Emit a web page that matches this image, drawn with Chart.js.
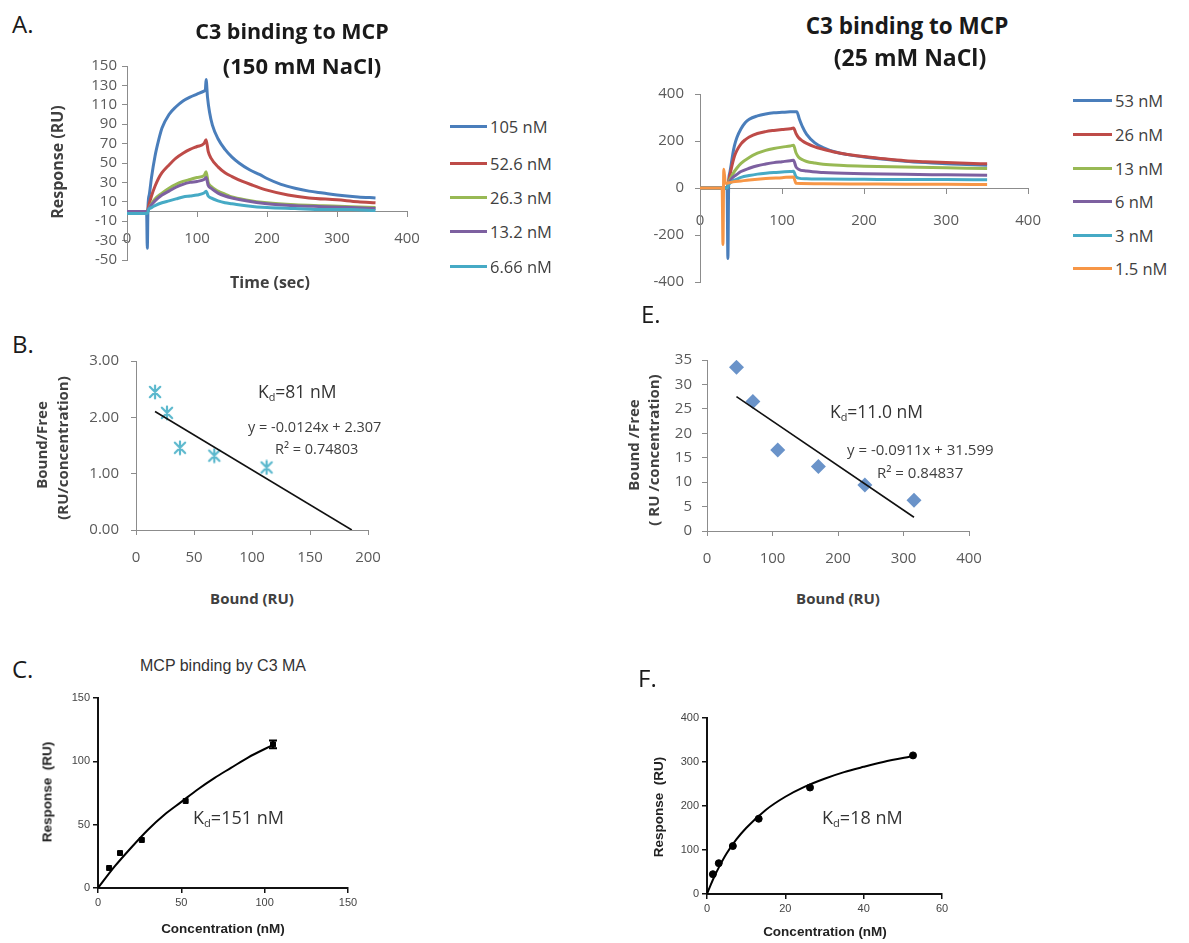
<!DOCTYPE html>
<html>
<head>
<meta charset="utf-8">
<title>C3 binding to MCP</title>
<script src="https://cdn.jsdelivr.net/npm/chart.js@4.4.1/dist/chart.umd.min.js"></script>
<style>
  html, body { margin: 0; padding: 0; background: #fff; }
  #fig { position: relative; width: 1189px; height: 943px; overflow: hidden; background: #fff; }
  #fig canvas { position: absolute; z-index: 1; }
  .t { position: absolute; white-space: nowrap; line-height: 1; z-index: 2; }
  .t sub { font-size: 0.62em; vertical-align: -0.25em; line-height: 0; }
  .leg { position: absolute; height: 3px; z-index: 2; }
</style>
</head>
<body>
<div id="fig"></div>
<script>
// ---------------- data ----------------
// Sensorgrams, 150 mM NaCl: time (s) and response (RU) per C3 concentration
const physLabels = ['105 nM', '52.6 nM', '26.3 nM', '13.2 nM', '6.66 nM'];
const physColors = ['#4A7EBB', '#BE4B48', '#98B954', '#7D60A0', '#46AAC5'];
const tPhys105 = [0, 28, 29, 30, 32, 35, 40, 45, 50, 60, 70, 80, 90, 100, 110, 112, 113, 115, 118, 122, 130, 140, 150, 160, 175, 190, 200, 220, 240, 260, 280, 300, 330, 355];
const rPhys105 = [0, 0, -38, 5, 18, 35, 57, 73, 86, 100, 108, 114, 118, 121, 124, 126, 136, 118, 102, 89, 75, 64, 56, 50, 43, 38, 34, 28, 24, 21, 19, 17, 15, 14];
const tPhys52 = [0, 29, 31, 35, 40, 45, 50, 60, 70, 80, 90, 100, 110, 113, 116, 120, 130, 140, 150, 165, 180, 200, 230, 260, 300, 330, 355];
const rPhys52 = [0, 0, 6, 16, 26, 34, 40, 48, 55, 60, 64, 67, 70, 74, 62, 55, 46, 40, 36, 31, 27, 22, 17, 14, 12, 10, 9];
const tPhysLow = [0, 29, 31, 35, 40, 50, 60, 70, 80, 90, 100, 110, 113, 116, 120, 130, 140, 150, 170, 200, 240, 280, 320, 355];
const rPhys26 = [0, 0, 3, 8, 13, 19, 24, 28, 31, 33, 35, 37, 41, 30, 26, 21, 18, 15, 12, 9, 7, 6, 5, 4];
const rPhys13 = [0, 0, 3, 7, 11, 17, 21, 25, 28, 30, 31, 33, 35, 27, 24, 19, 16, 14, 11, 8, 6, 5, 4, 3];
const rPhys6 = [-2, -2, 2, 4, 6, 9, 11, 13, 15, 16, 17, 19, 21, 16, 14, 11, 9, 8, 6, 4, 3, 2, 2, 1];

// Sensorgrams, 25 mM NaCl
const lowLabels = ['53 nM', '26 nM', '13 nM', '6 nM', '3 nM', '1.5 nM'];
const lowColors = ['#4A7EBB', '#BE4B48', '#98B954', '#7D60A0', '#46AAC5', '#F79646'];
const tLow53 = [0, 33, 34, 35, 36, 38, 40, 42, 45, 50, 55, 60, 70, 80, 90, 100, 110, 118, 121, 125, 130, 140, 150, 165, 180, 200, 225, 250, 275, 300, 325, 350];
const rLow53 = [0, 0, -300, 30, 60, 100, 145, 180, 215, 252, 278, 293, 307, 315, 320, 322, 324, 325, 295, 260, 228, 192, 172, 153, 142, 132, 122, 114, 108, 103, 100, 97];
const tLow26 = [0, 33, 35, 38, 40, 42, 45, 50, 55, 60, 70, 80, 90, 100, 110, 114, 117, 120, 125, 130, 140, 150, 165, 180, 200, 225, 250, 275, 300, 325, 350];
const rLow26 = [0, 0, 30, 80, 110, 135, 160, 188, 205, 217, 232, 240, 245, 249, 252, 255, 232, 215, 200, 190, 175, 165, 152, 143, 134, 124, 116, 112, 108, 105, 103];
const tLow13 = [0, 33, 35, 40, 45, 50, 60, 70, 80, 90, 100, 110, 114, 117, 120, 125, 130, 140, 150, 175, 200, 250, 300, 350];
const rLow13 = [0, 0, 25, 60, 85, 105, 130, 148, 160, 168, 174, 179, 182, 150, 132, 120, 113, 106, 101, 96, 93, 89, 86, 83];
const tLowSmall = [0, 33, 35, 40, 45, 50, 60, 70, 80, 90, 100, 110, 114, 117, 120, 130, 150, 200, 250, 300, 350];
const rLow6 = [0, 0, 20, 45, 58, 70, 84, 95, 102, 108, 112, 116, 118, 90, 80, 72, 66, 61, 58, 56, 54];
const rLow3 = [0, 0, 15, 30, 38, 45, 53, 59, 63, 66, 68, 70, 71, 48, 42, 39, 38, 37, 36, 36, 35];
const tLow15 = [0, 27, 28, 29, 31, 35, 40, 50, 60, 80, 100, 114, 117, 150, 200, 250, 300, 350];
const rLow15 = [0, 0, -240, 80, 20, 22, 26, 30, 34, 40, 44, 47, 20, 18, 17, 16, 16, 15];

// Scatchard plot, 150 mM NaCl
const bBound = [16.4, 26.7, 37.9, 67.5, 112.6];
const bRatio = [2.45, 2.08, 1.46, 1.32, 1.11];
const bSlope = -0.0124, bIntercept = 2.307, bR2 = '0.74803';

// Scatchard plot, 25 mM NaCl
const eBound = [45, 70, 108, 170, 241, 316];
const eRatio = [33.5, 26.5, 16.6, 13.2, 9.4, 6.3];
const eSlope = -0.0911, eIntercept = 31.599, eR2 = '0.84837';

// Equilibrium binding, 150 mM NaCl
const cConc = [6.66, 13.2, 26.3, 52.6, 105];
const cResp = [15.8, 27.6, 37.9, 68.7, 113.4];
const cErr = [0, 0, 0, 0, 3];
const cFitX = [0, 10, 20, 30, 40, 50, 60, 70, 80, 90, 105];
const cFitY = [0, 17, 32, 46, 58, 68, 78, 87, 95, 103, 113];

// Equilibrium binding, 25 mM NaCl
const fConc = [1.5, 3, 6.6, 13.2, 26.3, 52.6];
const fResp = [45, 70, 109, 171, 242, 315];
const fFitX = [0, 1, 2, 3, 5, 7.5, 10, 15, 20, 25, 30, 35, 40, 45, 53];
const fFitY = [0, 22, 42, 60, 92, 124, 150, 191, 221, 244, 262, 277, 289, 300, 314];

// Tick values
const tickA1Y = [-50, -30, -10, 10, 30, 50, 70, 90, 110, 130, 150];
const tickA1X = [0, 100, 200, 300, 400];
const tickA2Y = [-400, -200, 0, 200, 400];
const tickA2X = [0, 100, 200, 300, 400];
const tickBY = [0, 1, 2, 3];
const tickBX = [0, 50, 100, 150, 200];
const tickEY = [0, 5, 10, 15, 20, 25, 30, 35];
const tickEX = [0, 100, 200, 300, 400];
const tickCY = [0, 50, 100, 150];
const tickCX = [0, 50, 100, 150];
const tickFY = [0, 100, 200, 300, 400];
const tickFX = [0, 20, 40, 60];

// ---------------- helpers ----------------
const fig = document.getElementById('fig');
const SANS = "'Open Sans', sans-serif";
const ARIAL = "'Liberation Sans', Arial, sans-serif";

function pts(xs, ys) { return xs.map((x, i) => ({ x, y: ys[i] })); }

function text(html, x, y, css, anchor) {
  const d = document.createElement('div');
  d.className = 't';
  d.innerHTML = html;
  d.style.left = x + 'px';
  d.style.top = y + 'px';
  let tf = anchor === 'l' ? 'translate(0,-50%)' : 'translate(-50%,-50%)';
  if (anchor === 'v') tf = 'translate(-50%,-50%) rotate(-90deg)';
  d.style.transform = tf;
  Object.assign(d.style, css);
  fig.appendChild(d);
  return d;
}

function legend(labels, colors, x0, x1, ys, css) {
  labels.forEach((lab, i) => {
    const l = document.createElement('div');
    l.className = 'leg';
    l.style.left = x0 + 'px';
    l.style.width = (x1 - x0) + 'px';
    l.style.top = (ys[i] - 1.5) + 'px';
    l.style.background = colors[i];
    fig.appendChild(l);
    text(lab, x1 + 3, ys[i], css, 'l');
  });
}

// Six-armed asterisk marker (X plus a vertical stroke)
function asteriskMarker(size, color, width) {
  const c = document.createElement('canvas');
  c.width = size; c.height = size;
  const g = c.getContext('2d');
  const m = size / 2, r = size / 2 - 1.5;
  g.strokeStyle = color; g.lineWidth = width; g.lineCap = 'round';
  g.beginPath();
  g.moveTo(m - r * 0.8, m - r * 0.8); g.lineTo(m + r * 0.8, m + r * 0.8);
  g.moveTo(m + r * 0.8, m - r * 0.8); g.lineTo(m - r * 0.8, m + r * 0.8);
  g.moveTo(m, m - r); g.lineTo(m, m + r);
  g.stroke();
  return c;
}

function scale(ticks, min, max, style, extra) {
  const s = {
    type: 'linear', min, max,
    afterBuildTicks: sc => { sc.ticks = ticks.map(v => ({ value: v })); },
    grid: { display: true, drawOnChartArea: false, drawTicks: true, tickLength: 5,
            color: style.line, lineWidth: style.tickWidth },
    border: { display: true, color: style.line, width: style.axisWidth },
    ticks: { color: style.tickColor, font: { family: style.font, size: style.size },
             padding: style.pad, maxRotation: 0, autoSkip: false }
  };
  if (extra && extra.format) s.ticks.callback = extra.format;
  if (extra && extra.position) s.position = extra.position;
  return s;
}

const errorBars = {
  id: 'errorBars',
  afterDatasetsDraw(chart, args, opts) {
    if (!opts || !opts.xs) return;
    const { ctx, scales: { x, y } } = chart;
    ctx.save();
    ctx.strokeStyle = '#000';
    ctx.lineWidth = 2;
    opts.xs.forEach((xv, i) => {
      const e = opts.err[i];
      if (!e) return;
      const px = x.getPixelForValue(xv);
      const top = y.getPixelForValue(opts.ys[i] + e);
      const bot = y.getPixelForValue(opts.ys[i] - e);
      ctx.beginPath();
      ctx.moveTo(px, top); ctx.lineTo(px, bot);
      ctx.moveTo(px - 4, top); ctx.lineTo(px + 4, top);
      ctx.moveTo(px - 4, bot); ctx.lineTo(px + 4, bot);
      ctx.stroke();
    });
    ctx.restore();
  }
};

function makeChart(box, area, xs, ys, datasets, floatingX, pluginOpts) {
  const cv = document.createElement('canvas');
  cv.width = box.w; cv.height = box.h;
  cv.style.left = box.x + 'px'; cv.style.top = box.y + 'px';
  cv.style.width = box.w + 'px'; cv.style.height = box.h + 'px';
  fig.appendChild(cv);
  const yW = area.l - box.x;
  const xH = box.y + box.h - area.b;
  ys.afterFit = s => { s.width = yW; };
  if (!floatingX) xs.afterFit = s => { s.height = xH; };
  return new Chart(cv, {
    type: 'line',
    data: { datasets },
    options: {
      responsive: false, maintainAspectRatio: false, animation: false, devicePixelRatio: 1,
      events: [],
      layout: { autoPadding: false,
                padding: { left: 0, top: area.t - box.y, right: box.x + box.w - area.r, bottom: floatingX ? xH : 0 } },
      plugins: Object.assign({ legend: { display: false }, tooltip: { enabled: false }, title: { display: false } }, pluginOpts || {}),
      scales: { x: xs, y: ys }
    },
    plugins: [errorBars]
  });
}

function traces(list) {
  return list.map(([t, r, c]) => ({
    data: pts(t, r), borderColor: c, borderWidth: 3, pointRadius: 0,
    fill: false, cubicInterpolationMode: 'monotone', borderJoinStyle: 'round'
  }));
}

const excelA = { line: '#8c8c8c', tickWidth: 1, axisWidth: 1, tickColor: '#5a5a5a', font: SANS, size: 15, pad: 5 };
const excelB = { line: '#8c8c8c', tickWidth: 1, axisWidth: 1, tickColor: '#5a5a5a', font: SANS, size: 15, pad: 14 };
const prism = { line: '#111', tickWidth: 1.5, axisWidth: 2, tickColor: '#444', font: ARIAL, size: 11, pad: 3 };

// ---------------- A: sensorgrams, 150 mM NaCl ----------------
makeChart({ x: 50, y: 40, w: 390, h: 250 }, { l: 127, t: 66, r: 407, b: 260 },
  scale(tickA1X, 0, 400, Object.assign({}, excelA, { pad: 13 }), { position: { y: 0 } }),
  scale(tickA1Y, -50, 150, excelA),
  traces([
    [tPhysLow, rPhys6, physColors[4]],
    [tPhysLow, rPhys13, physColors[3]],
    [tPhysLow, rPhys26, physColors[2]],
    [tPhys52, rPhys52, physColors[1]],
    [tPhys105, rPhys105, physColors[0]]
  ]), true);

// ---------------- A: sensorgrams, 25 mM NaCl ----------------
makeChart({ x: 630, y: 70, w: 430, h: 240 }, { l: 700, t: 94, r: 1030, b: 282 },
  scale(tickA2X, 0, 400, Object.assign({}, excelA, { pad: 19 }), { position: { y: 0 } }),
  scale(tickA2Y, -400, 400, Object.assign({}, excelA, { pad: 11 })),
  traces([
    [tLow15, rLow15, lowColors[5]],
    [tLowSmall, rLow3, lowColors[4]],
    [tLowSmall, rLow6, lowColors[3]],
    [tLow13, rLow13, lowColors[2]],
    [tLow26, rLow26, lowColors[1]],
    [tLow53, rLow53, lowColors[0]]
  ]), true);

// ---------------- B: Scatchard, 150 mM ----------------
const bX0 = bBound[0], bX1 = -bIntercept / bSlope;
makeChart({ x: 70, y: 340, w: 330, h: 240 }, { l: 136, t: 360, r: 368, b: 530 },
  scale(tickBX, 0, 200, excelB),
  scale(tickBY, 0, 3, Object.assign({}, excelB, { pad: 12 }), { format: v => Number(v).toFixed(2) }),
  [
    { data: pts([bX0, bX1], [bIntercept + bSlope * bX0, bIntercept + bSlope * bX1]),
      borderColor: '#111', borderWidth: 1.6, pointRadius: 0, fill: false },
    { data: pts(bBound, bRatio), showLine: false, pointStyle: asteriskMarker(16, '#5bb8cd', 2.2),
      pointRadius: 8, borderColor: '#5bb8cd', backgroundColor: '#5bb8cd' }
  ], false);

// ---------------- E: Scatchard, 25 mM ----------------
const eX0 = eBound[0], eX1 = eBound[eBound.length - 1];
makeChart({ x: 640, y: 340, w: 360, h: 240 }, { l: 707, t: 360, r: 969, b: 531 },
  scale(tickEX, 0, 400, excelB),
  scale(tickEY, 0, 35, Object.assign({}, excelB, { pad: 10 })),
  [
    { data: pts([eX0, eX1], [eIntercept + eSlope * eX0, eIntercept + eSlope * eX1]),
      borderColor: '#111', borderWidth: 1.6, pointRadius: 0, fill: false },
    { data: pts(eBound, eRatio), showLine: false, pointStyle: 'rectRot', pointRadius: 7.5,
      pointBorderWidth: 0, borderColor: '#6a93c9', backgroundColor: '#6a93c9' }
  ], false);

// ---------------- C: saturation binding, 150 mM ----------------
makeChart({ x: 50, y: 680, w: 330, h: 250 }, { l: 98, t: 698, r: 348, b: 888 },
  scale(tickCX, 0, 150, prism),
  scale(tickCY, 0, 150, prism),
  [
    { data: pts(cFitX, cFitY), borderColor: '#000', borderWidth: 2, pointRadius: 0, fill: false,
      cubicInterpolationMode: 'monotone' },
    { data: pts(cConc, cResp), showLine: false, pointStyle: 'rect', pointRadius: 3.5,
      borderColor: '#000', backgroundColor: '#000' }
  ], false, { errorBars: { xs: cConc, ys: cResp, err: cErr } });

// ---------------- F: saturation binding, 25 mM ----------------
makeChart({ x: 660, y: 700, w: 310, h: 235 }, { l: 707, t: 718, r: 942, b: 894 },
  scale(tickFX, 0, 60, prism),
  scale(tickFY, 0, 400, prism),
  [
    { data: pts(fFitX, fFitY), borderColor: '#000', borderWidth: 2, pointRadius: 0, fill: false,
      cubicInterpolationMode: 'monotone' },
    { data: pts(fConc, fResp), showLine: false, pointStyle: 'circle', pointRadius: 3.5,
      borderColor: '#000', backgroundColor: '#000' }
  ], false);

// ---------------- text ----------------
const letter = { font: `24px ${SANS}`, color: '#1a1a1a' };
text('A.', 12, 23, letter, 'l');
text('B.', 12, 343, letter, 'l');
text('C.', 12, 668, letter, 'l');
text('E.', 641, 313, letter, 'l');
text('F.', 638, 677, letter, 'l');

text('C3 binding to MCP', 292, 30, { font: `bold 21.5px ${SANS}`, color: '#1a1a1a' });
text('(150 mM NaCl)', 302, 65, { font: `bold 22px ${SANS}`, color: '#1a1a1a' });
text('C3 binding to MCP', 907, 25, { font: `bold 22.5px ${SANS}`, color: '#1a1a1a' });
text('(25 mM NaCl)', 910, 57, { font: `bold 23px ${SANS}`, color: '#1a1a1a' });

const axT = { font: `bold 16px ${SANS}`, color: '#404040' };
text('Response (RU)', 57, 162, axT, 'v');
text('Time (sec)', 270, 282, axT);

const legCss = { font: `16.5px ${SANS}`, color: '#404040' };
legend(physLabels, physColors, 450, 487, [126, 163, 197, 231, 266], legCss);
legend(lowLabels, lowColors, 1073, 1112, [100, 134, 168, 201, 235, 268], legCss);

// Scatchard annotations
const axB = { font: `bold 15px ${SANS}`, color: '#404040' };
text('Bound/Free', 41, 445, axB, 'v');
text('(RU/concentration)', 62, 448, axB, 'v');
text('Bound (RU)', 252, 598, axB);
text('Bound /Free', 633, 445, axB, 'v');
text('( RU /concentration)', 653, 450, axB, 'v');
text('Bound (RU)', 838, 598, axB);

const kd = { font: `17.5px ${SANS}`, color: '#333' };
const fmtEq = (m, b) => `y = ${m.toFixed(4)}x + ${b}`;
text('K<sub>d</sub>=81 nM', 258, 391, kd, 'l');
text(fmtEq(bSlope, bIntercept.toFixed(3)), 248, 426, { font: `14.5px ${SANS}`, color: '#404040' }, 'l');
text(`R² = ${bR2}`, 275, 448, { font: `14.5px ${SANS}`, color: '#404040' }, 'l');
text('K<sub>d</sub>=11.0 nM', 830, 411, kd, 'l');
text(fmtEq(eSlope, eIntercept.toFixed(3)), 847, 449, { font: `15px ${SANS}`, color: '#404040' }, 'l');
text(`R² = ${eR2}`, 877, 472, { font: `15px ${SANS}`, color: '#404040' }, 'l');

// Saturation-binding annotations
const pAx = { font: `bold 13.5px ${ARIAL}`, color: '#222' };
text('MCP binding by C3 MA', 223, 666, { font: `16px ${ARIAL}`, color: '#333' });
text('Response&nbsp;&nbsp;(RU)', 47, 792, pAx, 'v');
text('Concentration (nM)', 223, 928, pAx);
text('Response&nbsp;&nbsp;(RU)', 658, 807, pAx, 'v');
text('Concentration (nM)', 825, 931, pAx);
const kd2 = { font: `18px ${SANS}`, color: '#333' };
text('K<sub>d</sub>=151 nM', 193, 817, kd2, 'l');
text('K<sub>d</sub>=18 nM', 822, 817, kd2, 'l');
</script>
</body>
</html>
